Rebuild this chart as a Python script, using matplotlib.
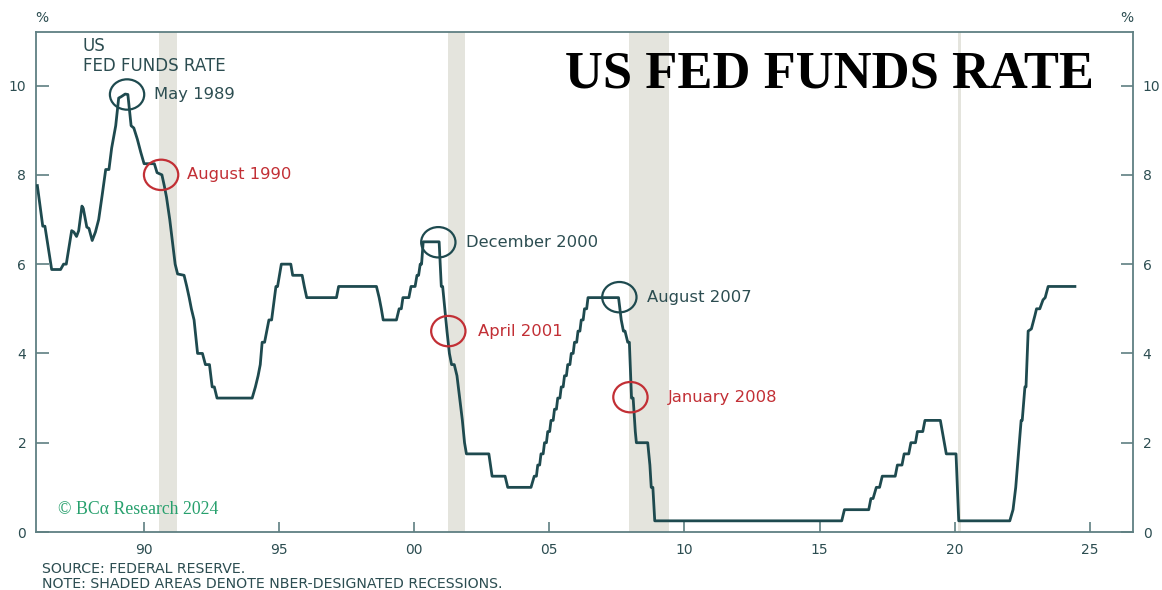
import matplotlib.pyplot as plt
from matplotlib.patches import Ellipse

# US fed funds rate, vertices (decimal year, %)
dates = [
    1986.05, 1986.25, 1986.33, 1986.58, 1986.91, 1987.02, 1987.12, 1987.32, 1987.40, 1987.50,
    1987.58, 1987.70, 1987.75, 1987.88, 1987.96, 1988.08, 1988.20, 1988.32, 1988.45, 1988.58,
    1988.70, 1988.80, 1988.95, 1989.06, 1989.15, 1989.30, 1989.40, 1989.52, 1989.62, 1989.75,
    1989.88, 1990.00, 1990.38, 1990.48, 1990.66, 1990.75, 1990.83, 1990.95, 1991.05, 1991.15,
    1991.24, 1991.48, 1991.58, 1991.67, 1991.75, 1991.85, 1991.98, 1992.16, 1992.27, 1992.42,
    1992.52, 1992.60, 1992.70, 1994.00, 1994.12, 1994.22, 1994.30, 1994.37, 1994.46, 1994.62,
    1994.72, 1994.88, 1994.94, 1995.08, 1995.43, 1995.50, 1995.85, 1995.93, 1996.02, 1997.12,
    1997.20, 1998.60, 1998.70, 1998.78, 1998.85, 1999.34, 1999.44, 1999.52, 1999.58, 1999.80,
    1999.88, 2000.03, 2000.10, 2000.16, 2000.22, 2000.27, 2000.33, 2000.92, 2001.00, 2001.05,
    2001.13, 2001.21, 2001.30, 2001.38, 2001.48, 2001.58, 2001.68, 2001.78, 2001.86, 2001.93,
    2002.76, 2002.88, 2003.36, 2003.46, 2004.32, 2004.44, 2004.52, 2004.57, 2004.64, 2004.69,
    2004.77, 2004.82, 2004.89, 2004.94, 2005.01, 2005.06, 2005.14, 2005.19, 2005.26, 2005.31,
    2005.39, 2005.44, 2005.51, 2005.56, 2005.63, 2005.68, 2005.76, 2005.81, 2005.88, 2005.93,
    2006.01, 2006.06, 2006.13, 2006.18, 2006.25, 2006.30, 2006.38, 2006.43, 2007.56, 2007.66,
    2007.74, 2007.80, 2007.90, 2007.96, 2008.04, 2008.10, 2008.18, 2008.22, 2008.64, 2008.72,
    2008.77, 2008.83, 2008.90, 2015.82, 2015.92, 2016.82, 2016.90, 2016.98, 2017.10, 2017.22,
    2017.32, 2017.80, 2017.88, 2018.05, 2018.13, 2018.30, 2018.38, 2018.55, 2018.62, 2018.82,
    2018.90, 2019.47, 2019.69, 2020.05, 2020.15, 2022.04, 2022.16, 2022.26, 2022.36, 2022.46,
    2022.50, 2022.60, 2022.64, 2022.72, 2022.84, 2022.97, 2023.03, 2023.15, 2023.27, 2023.35,
    2023.46, 2024.45,
]
rates = [
    7.76, 6.85, 6.85, 5.88, 5.88, 6.00, 6.00, 6.75, 6.72, 6.62,
    6.75, 7.30, 7.25, 6.83, 6.80, 6.53, 6.72, 7.00, 7.55, 8.12,
    8.12, 8.60, 9.10, 9.72, 9.75, 9.81, 9.80, 9.10, 9.05, 8.80,
    8.50, 8.25, 8.25, 8.05, 8.00, 7.75, 7.50, 7.00, 6.50, 6.00,
    5.78, 5.75, 5.50, 5.25, 5.00, 4.75, 4.00, 4.00, 3.75, 3.75,
    3.25, 3.25, 3.00, 3.00, 3.25, 3.50, 3.75, 4.25, 4.25, 4.75,
    4.75, 5.50, 5.50, 6.00, 6.00, 5.75, 5.75, 5.50, 5.25, 5.25,
    5.50, 5.50, 5.25, 5.00, 4.75, 4.75, 5.00, 5.00, 5.25, 5.25,
    5.50, 5.50, 5.75, 5.75, 6.00, 6.00, 6.50, 6.50, 5.50, 5.50,
    5.00, 4.50, 4.00, 3.75, 3.75, 3.50, 3.00, 2.50, 2.00, 1.75,
    1.75, 1.25, 1.25, 1.00, 1.00, 1.25, 1.25, 1.50, 1.50, 1.75,
    1.75, 2.00, 2.00, 2.25, 2.25, 2.50, 2.50, 2.75, 2.75, 3.00,
    3.00, 3.25, 3.25, 3.50, 3.50, 3.75, 3.75, 4.00, 4.00, 4.25,
    4.25, 4.50, 4.50, 4.75, 4.75, 5.00, 5.00, 5.25, 5.25, 4.75,
    4.50, 4.50, 4.25, 4.25, 3.00, 3.00, 2.25, 2.00, 2.00, 1.50,
    1.00, 1.00, 0.25, 0.25, 0.50, 0.50, 0.75, 0.75, 1.00, 1.00,
    1.25, 1.25, 1.50, 1.50, 1.75, 1.75, 2.00, 2.00, 2.25, 2.25,
    2.50, 2.50, 1.75, 1.75, 0.25, 0.25, 0.50, 1.00, 1.75, 2.50,
    2.50, 3.25, 3.25, 4.50, 4.55, 4.85, 5.00, 5.00, 5.20, 5.25,
    5.50, 5.50,
]

# NBER recessions
rec_start = [1990.56, 2001.23, 2007.96, 2020.12]
rec_end = [1991.21, 2001.89, 2009.44, 2020.22]

# circled turning points
ann_labels = ["May 1989", "August 1990", "December 2000", "April 2001", "August 2007", "January 2008"]
ann_dates = [1989.37, 1990.63, 2000.89, 2001.26, 2007.59, 2008.00]
ann_rates = [9.80, 8.00, 6.49, 4.50, 5.26, 3.02]
ann_red = [False, True, False, True, False, True]

year_ticks = [1990, 1995, 2000, 2005, 2010, 2015, 2020, 2025]
year_labels = ["90", "95", "00", "05", "10", "15", "20", "25"]
rate_ticks = [0, 2, 4, 6, 8, 10]

dark = "#1e4a4f"
txt = "#2c4d51"
red = "#c22f35"
spine = "#5f7f82"
W, H = 1162, 590

plt.rcParams["font.family"] = ["DejaVu Sans"]

fig = plt.figure(figsize=(W / 100, H / 100), dpi=100)
ax = fig.add_axes([36 / W, 1 - 532 / H, (1133 - 36) / W, (532 - 32) / H])

for s, e in zip(rec_start, rec_end):
    ax.axvspan(s, e, color="#e4e4dd", lw=0, zorder=0)

ax.plot(dates, rates, color=dark, lw=2.0, zorder=3)

# text offset (px) from circle centre for each label
offs = [27, 26, 28, 30, 28, 37]
for lab, x, y, r, o in zip(ann_labels, ann_dates, ann_rates, ann_red, offs):
    c = red if r else dark
    ax.add_patch(Ellipse((x, y), 1.27, 0.68, fill=False, ec=c, lw=1.6, zorder=4))
    ax.annotate(lab, (x, y), xytext=(o * 0.72, 0), textcoords="offset points",
                ha="left", va="center", color=red if r else txt, fontsize=11.8)

ax.set_xlim(1986.0, 2026.6)
ax.set_ylim(0, 11.2)
ax.set_xticks(year_ticks)
ax.set_xticklabels(year_labels)
ax.set_yticks(rate_ticks)
ax.tick_params(axis="y", direction="in", length=9, width=1.2, color=spine,
               left=True, right=True, labelleft=True, labelright=True,
               labelsize=10, labelcolor=txt, pad=7)
ax.tick_params(axis="x", direction="in", length=7, width=1.2, color=spine,
               labelsize=10, labelcolor=txt, pad=8)
for sp in ax.spines.values():
    sp.set_color(spine)
    sp.set_linewidth(1.3)

fig.text(42 / W, 1 - 18 / H, "%", ha="center", va="center", color=txt, fontsize=10)
fig.text(1127 / W, 1 - 18 / H, "%", ha="center", va="center", color=txt, fontsize=10)
fig.text(83 / W, 1 - 56 / H, "US\nFED FUNDS RATE", ha="left", va="center",
         color=txt, fontsize=12, linespacing=1.15)
fig.text(565 / W, 1 - 88 / H, "US FED FUNDS RATE", ha="left", va="baseline",
         family="Liberation Serif", weight="bold", fontsize=37.8, color="black")
fig.text(58 / W, 1 - 510 / H, "© BCα Research 2024", ha="left", va="center",
         family="Liberation Serif", fontsize=12.8, color="#27a06d")
fig.text(42 / W, 1 - 569 / H, "SOURCE: FEDERAL RESERVE.", ha="left", va="center",
         color=txt, fontsize=10.2)
fig.text(42 / W, 1 - 584 / H, "NOTE: SHADED AREAS DENOTE NBER-DESIGNATED RECESSIONS.",
         ha="left", va="center", color=txt, fontsize=10.2)

fig.savefig("out.png", dpi=100)
